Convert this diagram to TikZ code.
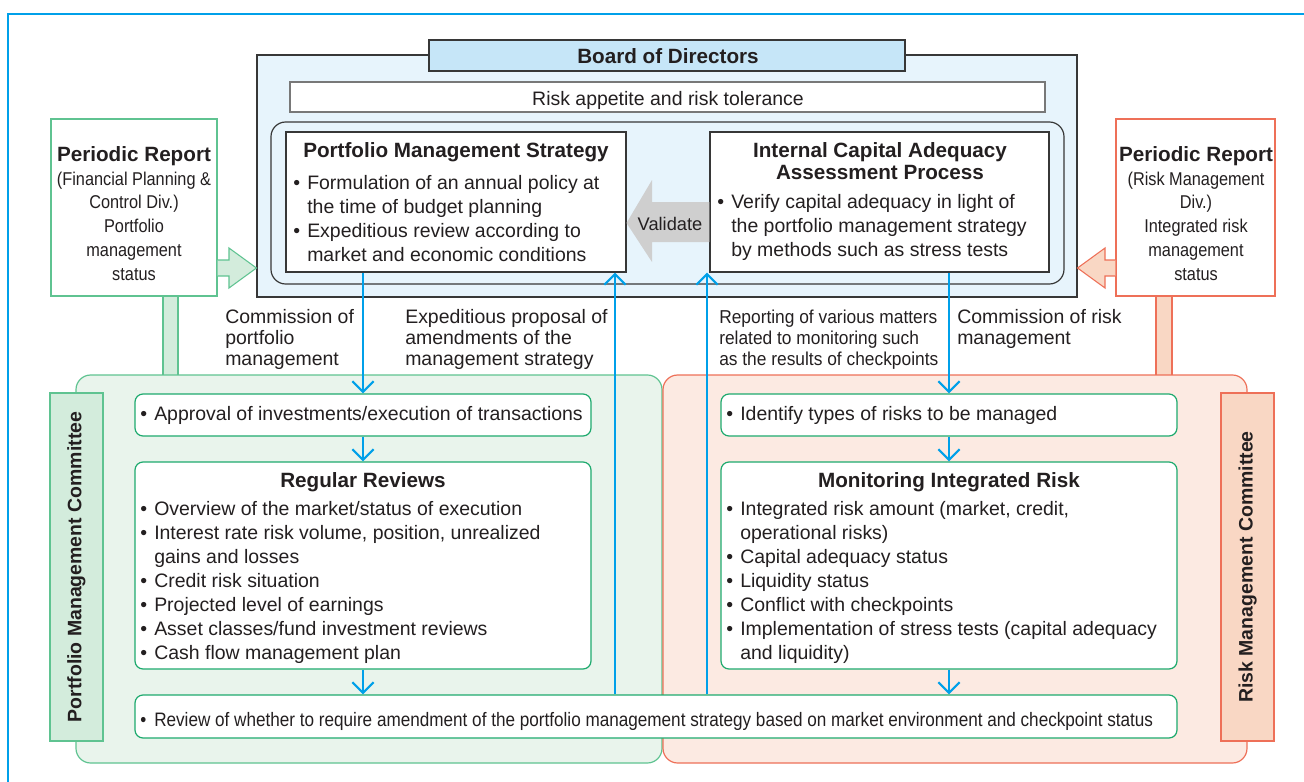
\documentclass[tikz,border=0pt]{standalone}
\usepackage{fontspec}
\usetikzlibrary{fit,arrows.meta}
\newfontfamily\fnreg{Liberation Sans}
\newfontfamily\fncond{Liberation Sans}[FakeStretch=0.88]
\newfontfamily\fnsq{Liberation Sans}[FakeStretch=0.93]
\definecolor{cy}{RGB}{0,160,233}
\definecolor{bdfill}{RGB}{231,244,252}
\definecolor{bdtitle}{RGB}{198,230,248}
\definecolor{dk}{RGB}{55,55,55}
\definecolor{gr}{RGB}{120,120,120}
\definecolor{gbd}{RGB}{30,170,110}
\definecolor{grgn}{RGB}{95,195,145}
\definecolor{gfill}{RGB}{233,244,236}
\definecolor{glab}{RGB}{211,236,220}
\definecolor{sbd}{RGB}{238,112,88}
\definecolor{sfill}{RGB}{252,234,226}
\definecolor{slab}{RGB}{249,215,196}
\definecolor{vgray}{RGB}{207,207,207}
\definecolor{tc}{RGB}{35,31,32}
\newcommand\bul{\makebox[10.5pt][l]{\textbullet}}
\newcommand\ind{\hspace*{10.5pt}}
\newcommand\ftxt{\fnreg\fontsize{14.6}{18}\selectfont}
\newcommand\fhead{\fnreg\bfseries\fontsize{15.5}{16.5}\selectfont}
\newcommand\flbl{\fnreg\fontsize{14.6}{15.75}\selectfont}
\newcommand\fper{\fncond\fontsize{13.9}{17.8}\selectfont}
\tikzset{
  tx/.style={inner sep=0, text=tc},
  fitbox/.style={inner sep=0},
  ibox/.style={fitbox, draw=gbd, fill=white, rounded corners=6pt, line width=0.9pt},
  carrow/.style={draw=cy, line width=1.6pt, -{Straight Barb[length=8pt,width=16pt]}},
}
\begin{document}
\begin{tikzpicture}[x=0.75pt,y=-0.75pt]
\useasboundingbox (0,0) rectangle (1304,782);
% outer frame
\coordinate (fbl) at (8,790);
\coordinate (ftl) at (8,14);
\coordinate (ftr) at (1310,14);
\draw[cy, line width=1.5pt] (fbl) -- (ftl) -- (ftr);

% Board of directors
\node[fitbox, draw=dk, fill=bdfill, line width=0.8pt, fit={(257,55)(1077,297)}] (board) {};
\node[fitbox, draw=dk, fill=bdtitle, line width=0.8pt, fit={(429,40)(905,71)}] (bodt) {};
\node[tx, font=\fhead, anchor=base] at (668,63) {Board of Directors};
\node[fitbox, draw=gr, fill=white, line width=0.8pt, fit={(290,82)(1045,112)}] (appetite) {};
\node[tx, font=\ftxt, anchor=base] at (668,105) {Risk appetite and risk tolerance};
\node[fitbox, draw=dk, rounded corners=11pt, line width=0.9pt, fit={(271,122)(1064,284)}] (inner) {};
\node[fitbox, draw=dk, fill=white, line width=0.8pt, fit={(286,132)(626,272)}] (pms) {};
\node[fitbox, draw=dk, fill=white, line width=0.8pt, fit={(710,132)(1049,272)}] (icaap) {};
\node[tx, font=\fhead, anchor=base] at (456,157) {Portfolio Management Strategy};
\node[tx, font=\ftxt, anchor=base west, align=left] at (293,261) {\bul Formulation of an annual policy at\\\ind the time of budget planning\\\bul Expeditious review according to\\\ind market and economic conditions};
\node[tx, font=\fhead, anchor=base, align=center] at (880,179) {Internal Capital Adequacy\\Assessment Process};
\node[tx, font=\ftxt, anchor=base west, align=left] at (717,256) {\bul Verify capital adequacy in light of\\\ind the portfolio management strategy\\\ind by methods such as stress tests};

% Validate arrow
\fill[vgray] (icaap.west |- 0,202) -- (652,202) -- (652,180) -- (pms.east |- 0,223) -- (652,262) -- (652,242) -- (icaap.west |- 0,242) -- cycle;
\node[tx, font=\fnreg\fontsize{13.7}{15}\selectfont] (val) at (670,224) {Validate};

% Periodic report boxes
\node[fitbox, draw=grgn, fill=white, line width=0.9pt, fit={(51,119)(217,296)}] (prl) {};
\node[tx, font=\fper, anchor=base, align=center] at (134,280) {{\fhead Periodic Report}\\(Financial Planning \&\\Control Div.)\\Portfolio\\management\\status};
\node[fitbox, draw=sbd, fill=white, line width=0.9pt, fit={(1116,119)(1275,296)}] (prr) {};
\node[tx, font=\fper, anchor=base, align=center] at (1196,280) {{\fhead Periodic Report}\\(Risk Management\\Div.)\\Integrated risk\\management\\status};

% fat arrows
\draw[grgn, fill=glab, line width=0.8pt] (prl.east |- 0,260) -- (229,260) -- (229,248) -- (board.west |- 0,268) -- (229,288) -- (229,276) -- (prl.east |- 0,276);
\draw[sbd, fill=slab, line width=0.8pt] (prr.west |- 0,260) -- (1105,260) -- (1105,248) -- (board.east |- 0,268) -- (1105,288) -- (1105,276) -- (prr.west |- 0,276);

% bars
\node[fitbox, draw=grgn, fill=glab, line width=0.8pt, fit={(163,296)(178,376)}] (barl) {};
\node[fitbox, draw=sbd, fill=slab, line width=0.8pt, fit={(1156,296)(1172,376)}] (barr) {};

% regions
\node[fitbox, draw=grgn, fill=gfill, rounded corners=11pt, line width=0.9pt, fit={(76,375)(662,763)}] (greg) {};
\node[fitbox, draw=sbd, fill=sfill, rounded corners=11pt, line width=0.9pt, fit={(663,375)(1247,763)}] (sreg) {};
\node[fitbox, draw=grgn, fill=glab, line width=0.9pt, fit={(50,393)(103,741)}] (pmc) {};
\node[fitbox, draw=sbd, fill=slab, line width=0.9pt, fit={(1221,393)(1274,741)}] (rmc) {};
\node[tx, rotate=90, font=\fnreg\bfseries\fontsize{14.6}{16}\selectfont] at (pmc.center) {Portfolio Management Committee};
\node[tx, rotate=90, font=\fnreg\bfseries\fontsize{14.6}{16}\selectfont] at (rmc.center) {Risk Management Committee};

% inner boxes
\node[ibox, fit={(135,394)(591,436)}] (appr) {};
\node[ibox, fit={(135,462)(591,669)}] (regr) {};
\node[ibox, fit={(721,394)(1177,436)}] (ident) {};
\node[ibox, fit={(721,462)(1177,669)}] (monr) {};
\node[ibox, fit={(135,695)(1177,738)}] (review) {};

\node[tx, font=\ftxt, anchor=base west] at (140,420) {\bul Approval of investments/execution of transactions};
\node[tx, font=\fhead, anchor=base] at (363,487) {Regular Reviews};
\node[tx, font=\ftxt, anchor=base west, align=left] at (140,659) {\bul Overview of the market/status of execution\\\bul Interest rate risk volume, position, unrealized\\\ind gains and losses\\\bul Credit risk situation\\\bul Projected level of earnings\\\bul Asset classes/fund investment reviews\\\bul Cash flow management plan};
\node[tx, font=\ftxt, anchor=base west] at (726,420) {\bul Identify types of risks to be managed};
\node[tx, font=\fhead, anchor=base] at (949,487) {Monitoring Integrated Risk};
\node[tx, font=\ftxt, anchor=base west, align=left] at (726,659) {\bul Integrated risk amount (market, credit,\\\ind operational risks)\\\bul Capital adequacy status\\\bul Liquidity status\\\bul Conflict with checkpoints\\\bul Implementation of stress tests (capital adequacy\\\ind and liquidity)};
\node[tx, font=\fncond\fontsize{14.6}{18}\selectfont, anchor=base west] at (140,726) {\bul Review of whether to require amendment of the portfolio management strategy based on market environment and checkpoint status};

% labels
\node[tx, font=\flbl, anchor=base west, align=left] at (225,365) {Commission of\\portfolio\\management};
\node[tx, font=\flbl, anchor=base west, align=left] at (405,365) {Expeditious proposal of\\amendments of the\\management strategy};
\node[tx, font=\fnsq\fontsize{14}{15.75}\selectfont, anchor=base west, align=left] at (719,365) {Reporting of various matters\\related to monitoring such\\as the results of checkpoints};
\node[tx, font=\flbl, anchor=base west, align=left] at (957,344) {Commission of risk\\management};

% blue arrows
\coordinate (u1) at (615,0);
\coordinate (u2) at (707,0);
\draw[carrow] (appr.north |- pms.south) -- (appr.north);
\draw[carrow] (appr.south) -- (regr.north);
\draw[carrow] (regr.south) -- (review.north -| regr.south);
\draw[carrow] (ident.north |- icaap.south) -- (ident.north);
\draw[carrow] (ident.south) -- (monr.north);
\draw[carrow] (monr.south) -- (review.north -| monr.south);
\draw[carrow] (review.north -| u1) -- (pms.south -| u1);
\draw[carrow] (review.north -| u2) -- (icaap.south -| u2);
\end{tikzpicture}
\end{document}
